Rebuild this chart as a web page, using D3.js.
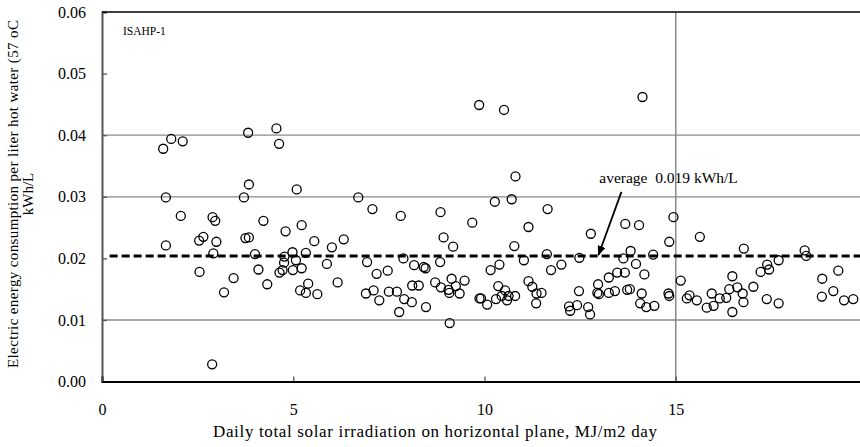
<!DOCTYPE html>
<html>
<head>
<meta charset="utf-8">
<script src="https://cdn.jsdelivr.net/npm/d3@7/dist/d3.min.js"></script>
<style>
  body { margin: 0; background: #fff; }
  svg { display: block; font-family: "Liberation Serif", "Times New Roman", serif; }
</style>
</head>
<body>
<div id="chart"></div>
<script>
// daily solar irradiation, MJ/m2 day
const irradiation = [
  1.60, 1.81, 2.11, 1.67, 1.67, 2.06, 2.55, 2.54, 2.65, 2.89, 2.96, 2.99, 2.91, 2.88, 3.19, 3.44,
  3.82, 3.84, 3.71, 3.75, 3.84, 4.00, 4.09, 4.22, 4.32, 4.56, 4.63, 4.80, 4.64, 4.72, 4.76, 4.77,
  4.98, 5.07, 4.99, 5.22, 5.33, 5.09, 5.22, 5.18, 5.33, 5.39, 5.63, 5.55, 5.88, 6.01, 6.16, 6.32,
  6.70, 7.07, 6.93, 7.18, 7.47, 6.90, 7.10, 7.25, 7.50, 7.71, 7.81, 7.88, 7.77, 7.90, 8.10, 8.16,
  8.41, 8.46, 8.11, 8.28, 8.47, 8.85, 8.93, 9.18, 8.84, 8.71, 8.86, 9.06, 9.08, 9.14, 9.25, 9.35,
  9.48, 9.09, 9.68, 9.87, 9.86, 10.51, 14.13, 10.81, 10.27, 10.71, 11.65, 11.15, 12.78, 13.68, 14.04,
  10.78, 11.03, 11.63, 11.74, 12.01, 12.48, 13.82, 13.63, 14.41, 13.96, 14.18, 14.83, 10.16, 10.39,
  11.15, 11.25, 11.36, 11.49, 11.35, 10.36, 9.91, 10.07, 10.30, 10.54, 10.45, 10.59, 10.63, 10.80,
  12.47, 12.21, 12.24, 12.42, 12.71, 12.76, 12.97, 12.95, 12.99, 13.25, 13.25, 13.41, 13.47, 13.67,
  13.73, 13.80, 14.11, 14.07, 14.23, 14.44, 14.94, 15.63, 15.13, 14.81, 14.83, 15.29, 15.36, 15.55,
  15.81, 15.99, 15.94, 16.15, 16.32, 16.40, 16.48, 16.61, 16.75, 16.77, 16.48, 17.03, 16.78, 17.22,
  17.39, 17.44, 17.69, 17.38, 17.69, 18.37, 18.41, 18.83, 18.82, 19.25, 19.12, 19.40, 19.64
];

// electric energy per liter of hot water, kWh/L
const consumption = [
  0.0378, 0.0394, 0.0390, 0.0299, 0.0221, 0.0269, 0.0178, 0.0229, 0.0235, 0.0267, 0.0261, 0.0227, 0.0208, 0.0028, 0.0145, 0.0168,
  0.0404, 0.0320, 0.0299, 0.0233, 0.0234, 0.0207, 0.0182, 0.0261, 0.0158, 0.0411, 0.0386, 0.0244, 0.0177, 0.0181, 0.0193, 0.0203,
  0.0210, 0.0197, 0.0181, 0.0184, 0.0209, 0.0312, 0.0254, 0.0148, 0.0144, 0.0159, 0.0142, 0.0228, 0.0191, 0.0218, 0.0161, 0.0231,
  0.0299, 0.0280, 0.0194, 0.0175, 0.0180, 0.0143, 0.0148, 0.0132, 0.0146, 0.0146, 0.0269, 0.0200, 0.0113, 0.0134, 0.0129, 0.0189,
  0.0186, 0.0184, 0.0156, 0.0156, 0.0121, 0.0275, 0.0234, 0.0219, 0.0194, 0.0161, 0.0153, 0.0149, 0.0144, 0.0167, 0.0155, 0.0143,
  0.0164, 0.0095, 0.0258, 0.0135, 0.0449, 0.0441, 0.0462, 0.0333, 0.0292, 0.0296, 0.0280, 0.0251, 0.0240, 0.0256, 0.0254,
  0.0220, 0.0197, 0.0207, 0.0181, 0.0190, 0.0201, 0.0212, 0.0200, 0.0206, 0.0191, 0.0174, 0.0227, 0.0181, 0.0190,
  0.0163, 0.0154, 0.0143, 0.0144, 0.0127, 0.0155, 0.0135, 0.0125, 0.0134, 0.0148, 0.0139, 0.0132, 0.0139, 0.0139,
  0.0147, 0.0122, 0.0115, 0.0124, 0.0121, 0.0109, 0.0158, 0.0144, 0.0142, 0.0169, 0.0144, 0.0147, 0.0177, 0.0177,
  0.0149, 0.0150, 0.0143, 0.0127, 0.0121, 0.0123, 0.0267, 0.0235, 0.0164, 0.0143, 0.0139, 0.0135, 0.0140, 0.0132,
  0.0120, 0.0123, 0.0143, 0.0135, 0.0136, 0.0150, 0.0171, 0.0153, 0.0143, 0.0129, 0.0113, 0.0154, 0.0216, 0.0178,
  0.0190, 0.0182, 0.0197, 0.0134, 0.0127, 0.0213, 0.0204, 0.0167, 0.0138, 0.0180, 0.0147, 0.0132, 0.0134
];

const xTicks = [0, 5, 10, 15];
const yTicks = [0, 0.01, 0.02, 0.03, 0.04, 0.05, 0.06];
const yGrid = [0.01, 0.03, 0.04];
const xGrid = [15];
const averageValue = 0.0204;
const averageLabel = "average  0.019 kWh/L";
const seriesName = "ISAHP-1";

const width = 860;
const height = 447;

const x = d3.scaleLinear().domain([0, 20]).range([102, 867]);
const y = d3.scaleLinear().domain([0, 0.06]).range([381.6, 12]);

const svg = d3.select("#chart")
  .append("svg")
  .attr("width", width)
  .attr("height", height);

svg.append("rect").attr("width", width).attr("height", height).attr("fill", "#fff");

// horizontal gridlines (only some values carry one)
svg.append("g")
  .selectAll("line")
  .data(yGrid)
  .enter()
  .append("line")
  .attr("x1", x(0))
  .attr("x2", width)
  .attr("y1", (d) => y(d))
  .attr("y2", (d) => y(d))
  .attr("stroke", "#8a8a8a")
  .attr("stroke-width", 1.3);

// the one vertical gridline
svg.append("g")
  .selectAll("line")
  .data(xGrid)
  .enter()
  .append("line")
  .attr("x1", (d) => x(d))
  .attr("x2", (d) => x(d))
  .attr("y1", y(0.06))
  .attr("y2", y(0))
  .attr("stroke", "#8a8a8a")
  .attr("stroke-width", 1.5);

// average line
svg.append("line")
  .attr("x1", x(0.2))
  .attr("x2", width)
  .attr("y1", y(averageValue))
  .attr("y2", y(averageValue))
  .attr("stroke", "#000")
  .attr("stroke-width", 3)
  .attr("stroke-dasharray", "8,4");

// data points
svg.append("g")
  .selectAll("circle")
  .data(irradiation.map((v, i) => [v, consumption[i]]))
  .enter()
  .append("circle")
  .attr("cx", (d) => x(d[0]))
  .attr("cy", (d) => y(d[1]))
  .attr("r", 4.5)
  .attr("fill", "none")
  .attr("stroke", "#000")
  .attr("stroke-width", 1.3);

// axes
const yAxis = d3.axisLeft(y).tickValues(yTicks).tickFormat(d3.format(".2f")).tickSize(-5).tickPadding(16);
const xAxis = d3.axisBottom(x).tickValues(xTicks).tickFormat(d3.format("d")).tickSize(-5).tickPadding(22);

const gy = svg.append("g").attr("transform", "translate(" + x(0) + ",0)").call(yAxis);
const gx = svg.append("g").attr("transform", "translate(0," + y(0) + ")").call(xAxis);

gy.select(".domain").attr("stroke", "#555").attr("stroke-width", 2);
gx.select(".domain").attr("stroke", "#000").attr("stroke-width", 2);
gy.selectAll(".tick line").attr("stroke", "#555").attr("stroke-width", 1.3);
gx.selectAll(".tick line").attr("stroke", "#555").attr("stroke-width", 1.3);
gy.selectAll("text").attr("font-size", 16).attr("fill", "#000").style("font-family", "Liberation Serif");
gx.selectAll("text").attr("font-size", 16).attr("fill", "#000").style("font-family", "Liberation Serif");

// top frame line
svg.append("line")
  .attr("x1", x(0))
  .attr("x2", width)
  .attr("y1", y(0.06))
  .attr("y2", y(0.06))
  .attr("stroke", "#000")
  .attr("stroke-width", 1.5);

// titles
svg.append("text")
  .attr("x", 435)
  .attr("y", 437)
  .attr("text-anchor", "middle")
  .attr("font-size", 17)
  .attr("textLength", 444)
  .attr("lengthAdjust", "spacing")
  .text("Daily total solar irradiation on horizontal plane, MJ/m2 day");

const yTitle = svg.append("text")
  .attr("transform", "translate(18,194) rotate(-90)")
  .attr("text-anchor", "middle")
  .attr("font-size", 15);
yTitle.append("tspan")
  .attr("x", 0)
  .attr("y", 0)
  .attr("textLength", 348)
  .attr("lengthAdjust", "spacing")
  .text("Electric energy consumption per liter hot water (57 oC");
yTitle.append("tspan").attr("x", 0).attr("y", 15).text("kWh/L");

svg.append("text")
  .attr("x", 123)
  .attr("y", 35)
  .attr("font-size", 11.5)
  .text(seriesName);

// average annotation with arrow
svg.append("defs")
  .append("marker")
  .attr("id", "arrowhead")
  .attr("markerWidth", 10)
  .attr("markerHeight", 8)
  .attr("refX", 9)
  .attr("refY", 4)
  .attr("orient", "auto")
  .attr("markerUnits", "userSpaceOnUse")
  .append("polygon")
  .attr("points", "0 0, 10 4, 0 8")
  .attr("fill", "#000");

svg.append("line")
  .attr("x1", x(13.58))
  .attr("y1", y(0.0308))
  .attr("x2", x(12.98))
  .attr("y2", y(averageValue) - 1)
  .attr("stroke", "#000")
  .attr("stroke-width", 1.8)
  .attr("marker-end", "url(#arrowhead)");

svg.append("text")
  .attr("x", x(13.0))
  .attr("y", y(0.0322))
  .attr("font-size", 15.5)
  .attr("xml:space", "preserve")
  .style("white-space", "pre")
  .text(averageLabel);
</script>
</body>
</html>
